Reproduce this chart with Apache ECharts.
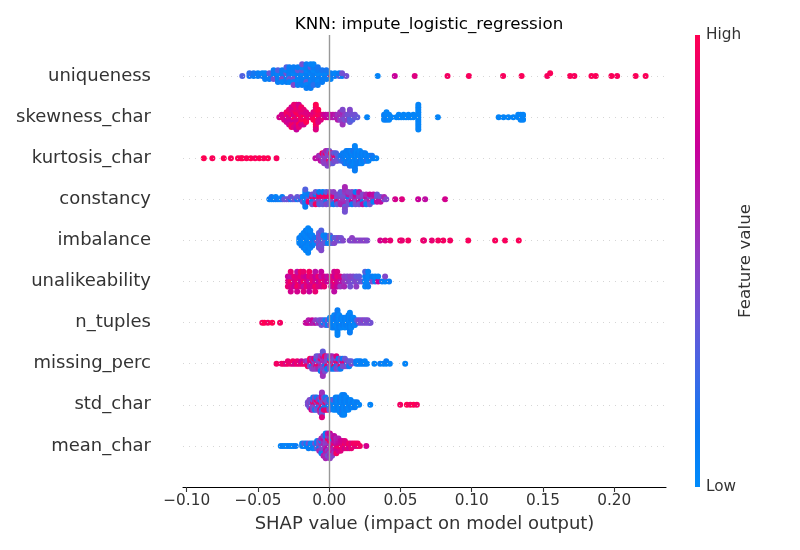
<!DOCTYPE html>
<html>
<head>
<meta charset="utf-8">
<title>KNN: impute_logistic_regression</title>
<script src="https://cdn.jsdelivr.net/npm/echarts@6/dist/echarts.min.js"></script>
<style>
    html, body { margin: 0; padding: 0; background: #ffffff; }
    #main { width: 800px; height: 550px; }
</style>
</head>
<body>
<div id="main"></div>
<script>
// feature names, top row first
var featureNames = ['uniqueness', 'skewness_char', 'kurtosis_char', 'constancy', 'imbalance',
    'unalikeability', 'n_tuples', 'missing_perc', 'std_char', 'mean_char'];
var xTicks = [-0.1, -0.05, 0, 0.05, 0.1, 0.15, 0.2];

// each point: [SHAP value, normalised feature value (0 = low, 1 = high)]
var uniqueness = [[-.061,.3],
    [-.056,.15],[-.056,.2],[-.053,.1],[-.053,.15],[-.050,.1],[-.050,.1],[-.047,.15],[-.047,.05],
    [-.045,.1],[-.045,.05],[-.045,.1],[-.042,.1],[-.042,.35],[-.042,.1],
    [-.039,.05],[-.039,.1],[-.039,.4],[-.039,.1],[-.036,.1],[-.036,.05],[-.036,.1],[-.036,.3],[-.036,.1],
    [-.033,.05],[-.033,.1],[-.033,.45],[-.033,.1],[-.033,.05],
    [-.030,.1],[-.030,.4],[-.030,.1],[-.030,.05],[-.030,.1],[-.030,.3],
    [-.028,.05],[-.028,.1],[-.028,.35],[-.028,.1],[-.028,.05],[-.028,.1],
    [-.025,.1],[-.025,.05],[-.025,.4],[-.025,.1],[-.025,.05],[-.025,.1],[-.025,.45],
    [-.022,.05],[-.022,.1],[-.022,.1],[-.022,.35],[-.022,.05],[-.022,.1],[-.022,.1],
    [-.019,.1],[-.019,.05],[-.019,.1],[-.019,.3],[-.019,.1],[-.019,.05],[-.019,.1],[-.019,.4],
    [-.016,.05],[-.016,.1],[-.016,.1],[-.016,.05],[-.016,.35],[-.016,.1],[-.016,.05],[-.016,.1],[-.016,.1],
    [-.013,.1],[-.013,.05],[-.013,.1],[-.013,.1],[-.013,.05],[-.013,.3],[-.013,.1],[-.013,.05],[-.013,.1],
    [-.011,.05],[-.011,.1],[-.011,.1],[-.011,.05],[-.011,.1],[-.011,.1],[-.011,.2],[-.011,.05],
    [-.008,.1],[-.008,.05],[-.008,.1],[-.008,.1],[-.008,.05],[-.008,.15],[-.008,.1],
    [-.005,.1],[-.005,.05],[-.005,.1],[-.005,.15],[-.005,.1],
    [-.002,.1],[-.002,.05],[-.002,.1],[-.002,.15],
    [.001,.95],[.001,.1],[.001,.05],[.004,.1],[.004,.05],[.007,.3],[.007,.1],[.009,.1],[.009,.4],[.012,.4],
    [.034,.05],[.046,.75],[.060,.85],[.083,.95],[.098,.97],[.122,.97],[.135,.98],[.153,.96],[.155,.98],
    [.169,.98],[.172,.97],[.184,.98],[.187,.98],[.198,.98],[.202,.97],[.215,.98],[.222,.98]];

var skewnessChar = [[-.035,.8],
    [-.0333,.85],[-.0333,.8],
    [-.0316,.9],[-.0316,.8],[-.0316,.85],
    [-.0299,.85],[-.0299,.9],[-.0299,.75],[-.0299,.95],[-.0299,.8],
    [-.0282,.9],[-.0282,.8],[-.0282,.85],[-.0282,.95],[-.0282,.75],[-.0282,.9],[-.0282,.8],
    [-.0265,.85],[-.0265,.95],[-.0265,.8],[-.0265,.9],[-.0265,.75],[-.0265,.85],[-.0265,.9],[-.0265,.8],[-.0265,.95],
    [-.0247,.9],[-.0247,.8],[-.0247,1],[-.0247,.85],[-.0247,.75],[-.0247,.9],[-.0247,.95],[-.0247,.8],[-.0247,.85],[-.0247,.9],
    [-.023,.95],[-.023,.85],[-.023,.9],[-.023,1],[-.023,.8],[-.023,.9],[-.023,.85],[-.023,.95],[-.023,.8],[-.023,.9],[-.023,.75],
    [-.0213,.9],[-.0213,1],[-.0213,.85],[-.0213,.95],[-.0213,.8],[-.0213,.9],[-.0213,1],[-.0213,.85],[-.0213,.9],[-.0213,.8],
    [-.0196,1],[-.0196,.9],[-.0196,.95],[-.0196,.85],[-.0196,1],[-.0196,.9],[-.0196,.8],[-.0196,.95],
    [-.0179,.95],[-.0179,1],[-.0179,.9],[-.0179,.85],[-.0179,1],[-.0179,.9],[-.0179,.8],
    [-.0162,1],[-.0162,.9],[-.0162,.95],[-.0162,.85],[-.0162,1],
    [-.0145,.9],[-.0145,.85],[-.0128,.9],
    [-.0111,.95],[-.0111,.9],[-.0111,1],[-.0111,.85],
    [-.0094,1],[-.0094,.95],[-.0094,1],[-.0094,.9],[-.0094,1],[-.0094,.95],[-.0094,1],[-.0094,.9],[-.0094,.95],[-.0094,1],[-.0094,.85],
    [-.0077,.95],[-.0077,1],[-.0077,.9],[-.0077,.95],[-.0077,.85],[-.0077,1],
    [-.0059,.9],[-.0059,.95],[-.0059,.85],[-.0042,.9],[-.0042,.8],[-.0025,.8],[-.0025,.75],
    [-.0008,.75],[-.0008,.7],[.0009,.7],[.0009,.75],[.0026,.65],[.0026,.7],[.0043,.6],[.0043,.65],
    [.006,.6],[.006,.55],[.006,.65],[.0077,.55],[.0077,.6],[.0077,.5],[.0077,.55],
    [.0094,.5],[.0094,.55],[.0094,.45],[.0094,.6],[.0094,.5],[.0094,.45],[.0094,.55],
    [.0111,.45],[.0111,.5],[.0111,.4],[.0128,.45],[.0128,.4],[.0128,.5],
    [.0145,.35],[.0145,.4],[.0145,.3],[.0145,.4],[.0145,.35],[.0145,.45],
    [.0163,.35],[.0163,.4],[.0163,.3],[.018,.35],[.018,.4],[.0197,.35],
    [.0266,.05],[.0385,.05],[.0385,.1],[.0385,.05],[.0402,.05],[.0402,.05],[.0402,.1],[.0402,.05],
    [.042,.05],[.042,.05],[.042,.05],[.0437,.05],
    [.0471,.05],[.0488,.05],[.0488,.05],[.0505,.05],[.0522,.05],[.0522,.05],[.0539,.05],[.0556,.05],[.0556,.05],
    [.0573,.05],[.059,.05],[.059,.05],
    [.0625,.05],[.0625,.05],[.0625,.05],[.0625,.05],[.0625,.05],[.0625,.05],[.0625,.05],[.0625,.05],[.0625,.05],[.0625,.05],[.0625,.05],
    [.0762,.05],[.1189,.05],[.1223,.05],[.1257,.05],[.1292,.05],[.1326,.05],[.1326,.05],
    [.1343,.05],[.1343,.05],[.1343,.05],[.136,.05],[.136,.05],[.136,.05]];

var kurtosisChar = [[-.088,1],[-.082,.98],[-.074,1],[-.069,.98],[-.064,1],[-.062,.97],[-.061,1],[-.058,.98],
    [-.055,1],[-.052,.97],[-.049,1],[-.046,.98],[-.043,1],[-.037,.97],
    [-.0097,.7],[-.0072,.65],[-.0072,.6],[-.006,.6],[-.006,.55],[-.006,.7],
    [-.0048,.55],[-.0048,.5],[-.0048,.6],[-.0048,.95],
    [-.0036,.5],[-.0036,.55],[-.0036,.45],[-.0036,.6],[-.0036,.5],
    [-.0024,.5],[-.0024,.45],[-.0024,.55],[-.0024,.95],[-.0024,.5],[-.0024,.6],
    [-.0012,.45],[-.0012,.5],[-.0012,.55],[-.0012,.4],[-.0012,.5],[-.0012,.6],[-.0012,.45],
    [0,.5],[0,.45],[0,.95],[0,.5],[0,.55],[0,.4],
    [.0012,.45],[.0012,.5],[.0012,.4],[.0012,.95],[.0012,.5],
    [.0024,.4],[.0024,.45],[.0024,.95],[.0024,.5],[.0024,.35],
    [.0036,.4],[.0036,.95],[.0036,.45],[.0036,.35],[.0048,.35],[.0048,.9],[.0048,.4],[.0048,.3],
    [.006,.3],[.006,.35],[.006,.4],[.0072,.3],[.0072,.25],
    [.0084,.2],[.0084,.15],[.0084,.3],[.0096,.15],[.0096,.1],[.0096,.2],[.0096,.1],
    [.0108,.1],[.0108,.15],[.0108,.05],[.0108,.1],[.0108,.2],
    [.012,.1],[.012,.05],[.012,.15],[.012,.1],[.012,.05],[.012,.1],
    [.0132,.05],[.0132,.1],[.0132,.1],[.0132,.05],[.0132,.15],[.0132,.1],
    [.0144,.1],[.0144,.05],[.0144,.1],[.0144,.1],[.0144,.05],[.0144,.1],[.0144,.15],
    [.0156,.05],[.0156,.1],[.0156,.05],[.0156,.1],[.0156,.1],[.0156,.05],
    [.0168,.1],[.0168,.05],[.0168,.1],[.0168,.05],[.0168,.1],[.0168,.15],[.0168,.05],
    [.018,.05],[.018,.1],[.018,.05],[.018,.1],[.018,.05],[.018,.1],[.018,.05],[.018,.15],[.018,.1],[.018,.05],[.018,.1],
    [.0192,.1],[.0192,.05],[.0192,.1],[.0192,.05],[.0192,.1],[.0192,.05],
    [.0204,.05],[.0204,.1],[.0204,.05],[.0204,.1],[.0204,.1],
    [.0216,.1],[.0216,.05],[.0216,.15],[.0216,.05],[.0216,.1],[.0216,.05],
    [.0228,.05],[.0228,.1],[.0228,.05],[.0228,.1],[.0228,.05],
    [.024,.1],[.024,.05],[.024,.1],[.024,.05],[.0252,.05],[.0252,.1],[.0252,.05],[.0252,.1],
    [.0264,.1],[.0264,.05],[.0264,.2],[.0276,.05],[.0276,.1],[.0276,.05],
    [.0288,.1],[.0288,.05],[.03,.05],[.03,.15],[.0312,.1],[.033,.05]];

var constancy = [[-.042,.1],[-.0405,.05],[-.0405,.15],[-.039,.1],[-.0375,.1],[-.0375,.05],[-.036,.15],[-.0345,.05],
    [-.033,.2],[-.033,.1],[-.0315,.4],[-.030,.35],[-.0285,.4],[-.027,.15],[-.027,.45],[-.0255,.3],[-.024,.4],
    [-.0225,.1],[-.0225,.35],[-.021,.3],[-.0195,.1],[-.0195,.4],[-.0185,.1],[-.0185,.05],[-.0185,.35],
    [-.0168,.05],[-.0168,.1],[-.0168,.05],[-.0168,.1],[-.0168,.15],[-.0168,.05],[-.0168,.1],[-.0168,.3],
    [-.0145,.4],[-.0145,.35],[-.0145,.9],[-.0145,.1],
    [-.012,.4],[-.012,.95],[-.012,.1],[-.012,.45],[-.012,.35],
    [-.0095,.45],[-.0095,.9],[-.0095,.4],[-.0095,.1],[-.0095,.95],[-.0095,.35],
    [-.007,.4],[-.007,.95],[-.007,.45],[-.007,.9],[-.007,.3],[-.007,.1],
    [-.0045,.45],[-.0045,.9],[-.0045,.4],[-.0045,.95],[-.0045,.35],[-.0045,.1],
    [-.002,.4],[-.002,.95],[-.002,.1],[-.002,.9],[-.002,.45],[-.002,.3],
    [.0005,.45],[.0005,.9],[.0005,.4],[.0005,.95],[.0005,.35],[.0005,.5],
    [.003,.4],[.003,.95],[.003,.45],[.003,.85],[.003,.1],[.003,.5],
    [.0055,.5],[.0055,.4],[.0055,.9],[.0055,.45],[.0055,.35],
    [.008,.5],[.008,.45],[.008,.55],[.008,.4],[.008,.6],[.008,.35],
    [.011,.5],[.011,.45],[.011,.55],[.011,.4],[.011,.6],[.011,.5],[.011,.35],[.011,.55],[.011,.45],[.011,.6],[.011,.4],
    [.0135,.55],[.0135,.1],[.0135,.45],[.0135,.65],[.0135,.4],[.0135,.5],
    [.016,.6],[.016,.4],[.016,.75],[.016,.5],[.016,.1],[.016,.45],
    [.0185,.5],[.0185,.65],[.0185,.45],[.0185,.7],[.0185,.4],[.0185,.1],
    [.021,.6],[.021,.45],[.021,.7],[.021,.5],[.021,.4],[.021,.65],
    [.0235,.65],[.0235,.5],[.0235,.1],[.0235,.45],[.0235,.7],
    [.026,.5],[.026,.7],[.026,.45],[.026,.6],[.026,.1],
    [.0285,.7],[.0285,.45],[.0285,.6],[.0285,.75],[.0285,.4],
    [.031,.45],[.031,.6],[.031,.1],[.031,.7],[.0335,.6],[.0335,.4],[.0335,.7],[.0335,.35],
    [.036,.65],[.036,.4],[.036,.7],[.0385,.4],[.0385,.6],[.040,.45],
    [.0463,.8],[.051,.85],[.0624,.75],[.0673,.7],[.0813,.8]];

var imbalance = [[-.021,.05],[-.021,.1],[-.021,.05],
    [-.0195,.05],[-.0195,.1],[-.0195,.05],[-.0195,.05],[-.0195,.1],
    [-.0179,.1],[-.0179,.05],[-.0179,.05],[-.0179,.1],[-.0179,.05],[-.0179,.05],[-.0179,.1],
    [-.0164,.05],[-.0164,.1],[-.0164,.05],[-.0164,.05],[-.0164,.1],[-.0164,.05],[-.0164,.05],[-.0164,.1],[-.0164,.05],
    [-.0148,.05],[-.0148,.05],[-.0148,.1],[-.0148,.05],[-.0148,.05],[-.0148,.1],[-.0148,.05],[-.0148,.05],[-.0148,.1],[-.0148,.05],[-.0148,.05],
    [-.0133,.1],[-.0133,.05],[-.0133,.05],[-.0133,.1],[-.0133,.05],[-.0133,.1],[-.0133,.05],[-.0133,.05],
    [-.0118,.05],[-.0118,.1],[-.0118,.2],[-.0118,.05],[-.0118,.1],
    [-.0102,.1],[-.0102,.15],[-.0102,.05],[-.0087,.4],[-.0087,.1],
    [-.0072,.4],[-.0072,.45],[-.0072,.35],[-.0072,.4],[-.0072,.45],[-.0072,.35],[-.0072,.4],
    [-.0056,.4],[-.0056,.35],[-.0056,.45],[-.0056,.4],[-.0056,.35],[-.0056,.45],[-.0056,.4],[-.0056,.3],[-.0056,.45],
    [-.0041,.1],[-.0041,.35],[-.0041,.4],[-.0041,.05],[-.0026,.3],[-.0026,.05],[-.0026,.35],[-.0026,.1],
    [-.001,.35],[-.001,.1],[-.001,.05],[.0006,.1],[.0006,.4],[.0006,.05],[.0006,.35],
    [.0021,.4],[.0021,.1],[.0021,.35],[.0036,.05],[.0036,.35],[.0036,.45],
    [.0052,.45],[.0052,.35],[.0067,.4],[.0067,.45],[.0083,.35],[.0083,.4],[.0098,.45],
    [.0144,.45],[.016,.45],[.016,.5],[.0175,.45],[.019,.5],[.0206,.45],[.0221,.5],[.0237,.45],[.0252,.5],[.0267,.45],
    [.0358,.8],[.0393,.85],[.0428,.9],[.0498,.95],[.051,.9],[.0554,.95],[.0659,.95],[.0665,.9],[.072,.9],
    [.0764,.95],[.080,.95],[.0848,.95],[.0975,.97],[.1164,.97],[.1234,.97],[.133,.98]];

var unalikeability = [[-.029,.85],[-.029,.75],[-.029,.9],
    [-.027,.95],[-.027,.7],[-.027,.85],[-.027,.9],[-.027,.8],
    [-.0245,.8],[-.0245,.9],[-.0245,.75],
    [-.0225,.9],[-.0225,.85],[-.0225,.95],[-.0225,.7],[-.0225,.8],
    [-.020,.75],[-.020,.9],[-.020,.85],[-.020,.95],
    [-.018,.95],[-.018,.8],[-.018,.7],[-.018,.9],[-.018,.85],
    [-.016,.85],[-.016,.75],[-.016,.9],
    [-.014,.7],[-.014,.9],[-.014,.8],[-.014,.95],[-.014,.75],
    [-.012,.9],[-.012,.85],[-.012,.8],
    [-.0098,.8],[-.0098,.75],[-.0098,.95],[-.0098,.7],[-.0098,.9],
    [-.0077,.75],[-.0077,.9],[-.0077,.85],
    [-.0056,.9],[-.0056,.7],[-.0056,.8],[-.0056,.75],
    [-.0035,.85],[-.0035,.8],[-.0035,.9],[-.0014,.75],[-.0014,.7],
    [.0014,.8],[.0014,.9],[.0014,.7],
    [.0035,.9],[.0035,.75],[.0035,.85],[.0035,.8],[.0035,.7],
    [.0056,.8],[.0056,.9],[.0056,.75],[.0056,.85],
    [.0077,.7],[.0077,.85],[.0077,.55],[.0105,.55],[.0105,.5],[.0105,.6],[.0126,.5],[.0126,.45],
    [.0147,.45],[.0147,.5],[.0147,.4],[.0168,.4],[.0168,.45],[.019,.45],[.019,.35],[.019,.5],
    [.021,.4],[.021,.35],[.023,.35],
    [.0252,.05],[.0252,.1],[.0252,.05],[.0252,.3],[.0273,.05],[.0273,.05],[.0273,.1],[.0273,.05],
    [.0301,.4],[.0301,.1],[.0322,.1],[.0322,.05],[.0343,.75],[.0343,.05],[.0371,.1],[.0392,.05],[.0392,.45],[.042,.1]];

var nTuples = [[-.047,.95],[-.0455,1],[-.043,.95],[-.040,1],[-.0345,.95],
    [-.0165,.75],[-.0155,.7],[-.0145,.8],[-.0145,.65],[-.013,.7],[-.012,.65],[-.012,.75],[-.0105,.6],
    [-.0095,.7],[-.0095,.5],[-.008,.45],[-.007,.6],[-.007,.4],
    [-.0055,.35],[-.0055,.45],[-.0055,.4],[-.004,.1],[-.004,.3],[-.0025,.4],[-.0025,.05],[-.0025,.35],
    [-.001,.1],[-.001,.4],[-.001,.05],[.0005,.05],[.0005,.1],[.0005,.4],[.0005,.05],
    [.002,.05],[.002,.1],[.002,.05],[.002,.1],[.002,.05],
    [.0035,.1],[.0035,.05],[.0035,.1],[.0035,.05],[.0035,.1],[.0035,.05],
    [.0045,.05],[.0045,.1],[.0045,.05],[.0045,.15],
    [.0058,.05],[.0058,.1],[.0058,.05],[.0058,.1],[.0058,.05],[.0058,.1],[.0058,.05],[.0058,.15],[.0058,.05],[.0058,.1],[.0058,.05],
    [.007,.1],[.007,.05],[.007,.1],[.007,.05],[.007,.1],[.007,.05],
    [.0085,.05],[.0085,.1],[.0085,.05],[.0085,.1],[.0085,.05],
    [.0095,.1],[.0095,.05],[.0095,.1],[.0095,.05],
    [.011,.05],[.011,.1],[.011,.05],[.011,.1],[.011,.05],
    [.012,.1],[.012,.05],[.012,.1],[.012,.05],
    [.0135,.05],[.0135,.1],[.0135,.05],[.0135,.1],[.0135,.05],[.0135,.1],
    [.0145,.1],[.0145,.05],[.0145,.1],[.0145,.05],[.0145,.1],[.0145,.05],[.0145,.1],[.0145,.05],[.0145,.1],
    [.0155,.05],[.0155,.1],[.0155,.05],[.0155,.1],[.0155,.05],
    [.017,.1],[.017,.05],[.017,.1],[.017,.05],[.018,.05],[.018,.1],[.018,.05],[.0195,.1],[.0195,.3],
    [.021,.4],[.021,.45],[.0225,.45],[.0225,.4],[.024,.4],[.024,.5],[.0255,.45],[.0255,.4],
    [.027,.4],[.027,.45],[.0285,.45],[.029,.4]];

var missingPerc = [[-.037,.95],[-.0335,.9],[-.032,.95],[-.0305,.85],[-.029,.95],[-.029,.9],[-.027,.9],
    [-.0255,.85],[-.0255,.95],[-.024,.8],[-.0225,.95],[-.0225,.9],[-.021,.85],[-.0195,.9],[-.0195,.75],
    [-.018,.95],[-.0165,.85],[-.0165,.6],
    [-.015,.9],[-.015,.5],[-.015,.95],[-.0135,.6],[-.0135,.85],[-.0135,.4],[-.0135,.95],
    [-.012,.5],[-.012,.9],[-.012,.1],[-.012,.6],[-.012,.45],
    [-.0105,.95],[-.0105,.4],[-.0105,.55],[-.0105,.85],[-.0105,.5],
    [-.009,.45],[-.009,.6],[-.009,.9],[-.009,.1],[-.009,.5],[-.009,.4],
    [-.0075,.55],[-.0075,.45],[-.0075,.95],[-.0075,.5],[-.0075,.6],[-.0075,.35],
    [-.006,.5],[-.006,.4],[-.006,.6],[-.006,.9],[-.006,.45],[-.006,.55],[-.006,.1],
    [-.0045,.5],[-.0045,.6],[-.0045,.45],[-.0045,.55],[-.0045,.4],[-.0045,.7],[-.0045,.5],[-.0045,.45],[-.0045,.6],[-.0045,.35],[-.0045,.55],
    [-.003,.45],[-.003,.55],[-.003,.1],[-.003,.6],[-.003,.5],[-.003,.95],[-.003,.4],
    [-.0015,.5],[-.0015,.4],[-.0015,.9],[-.0015,.45],[-.0015,.1],[-.0015,.55],
    [.0005,.4],[.0005,.95],[.0005,.5],[.0005,.1],[.0005,.45],[.0005,.35],
    [.002,.5],[.002,.9],[.002,.4],[.002,.45],[.002,.1],[.002,.6],
    [.0035,.35],[.0035,.5],[.0035,.95],[.0035,.4],[.0035,.1],
    [.005,.45],[.005,.9],[.005,.1],[.005,.4],[.005,.5],[.005,.85],
    [.0065,.4],[.0065,.95],[.0065,.45],[.0065,.1],[.0065,.35],
    [.008,.5],[.008,.4],[.008,.9],[.008,.45],[.008,.1],
    [.0095,.35],[.0095,.85],[.0095,.4],[.0095,.1],[.011,.4],[.011,.9],[.011,.45],[.011,.35],
    [.0125,.1],[.0125,.45],[.0125,.4],[.014,.4],[.014,.35],[.014,.1],[.0155,.45],[.0155,.35],
    [.019,.05],[.019,.1],[.0205,.1],[.0205,.05],[.022,.05],[.022,.1],[.0235,.05],[.025,.1],[.025,.05],[.0265,.05],
    [.0317,.05],[.0357,.1],[.038,.05],[.040,.05],[.040,.1],[.0425,.05],[.0533,.05]];

var stdChar = [[-.015,.45],[-.015,.4],
    [-.0138,.4],[-.0138,.5],[-.0138,.35],[-.0138,.45],
    [-.0125,.45],[-.0125,.35],[-.0125,.5],[-.0125,.4],[-.0125,.8],
    [-.0113,.4],[-.0113,.9],[-.0113,.45],[-.0113,.35],[-.0113,.5],[-.0113,.15],
    [-.010,.5],[-.010,.95],[-.010,.4],[-.010,.6],[-.010,.1],[-.010,.45],
    [-.0088,.85],[-.0088,.4],[-.0088,.5],[-.0088,.95],[-.0088,.35],[-.0088,.15],
    [-.0075,.45],[-.0075,.9],[-.0075,.1],[-.0075,.6],[-.0075,.4],
    [-.0063,.5],[-.0063,.95],[-.0063,.4],[-.0063,.15],[-.0063,.85],[-.0063,.45],[-.0063,.6],
    [-.0051,.6],[-.0051,.45],[-.0051,.9],[-.0051,.5],[-.0051,.1],[-.0051,.95],[-.0051,.4],[-.0051,.7],[-.0051,.35],[-.0051,.55],[-.0051,.85],
    [-.0038,.95],[-.0038,.4],[-.0038,.1],[-.0038,.5],[-.0038,.9],[-.0038,.45],
    [-.0026,.5],[-.0026,.95],[-.0026,.1],[-.0026,.4],[-.0026,.85],[-.0026,.15],
    [-.0013,.9],[-.0013,.45],[-.0013,.1],[-.0013,.4],[-.0013,.95],
    [.0001,.1],[.0001,.4],[.0001,.05],[.0001,.15],[.0001,.35],
    [.0015,.05],[.0015,.1],[.0015,.3],[.0015,.05],
    [.003,.1],[.003,.05],[.003,.1],[.003,.4],[.003,.05],
    [.0045,.05],[.0045,.1],[.0045,.05],[.0045,.15],[.0045,.05],[.0045,.1],
    [.006,.1],[.006,.05],[.006,.1],[.006,.05],[.006,.1],[.006,.05],
    [.0075,.05],[.0075,.1],[.0075,.05],[.0075,.1],[.0075,.05],[.0075,.15],[.0075,.05],
    [.009,.1],[.009,.05],[.009,.1],[.009,.05],[.009,.1],[.009,.05],[.009,.15],[.009,.05],[.009,.1],
    [.0105,.05],[.0105,.1],[.0105,.05],[.0105,.1],[.0105,.05],[.0105,.1],[.0105,.05],[.0105,.1],[.0105,.05],
    [.012,.1],[.012,.05],[.012,.1],[.012,.05],[.012,.1],[.012,.05],
    [.0135,.05],[.0135,.1],[.0135,.05],[.0135,.1],[.0135,.05],
    [.015,.1],[.015,.05],[.015,.1],[.015,.05],[.0165,.05],[.0165,.1],[.0165,.05],
    [.018,.1],[.018,.05],[.018,.1],[.0195,.05],[.0195,.1],[.021,.05],
    [.0288,.05],[.0498,.95],[.0545,1],[.0569,.95],[.0592,1],[.0615,.95]];

var meanChar = [[-.034,.05],[-.0325,.1],[-.031,.05],[-.0295,.05],[-.028,.1],[-.0265,.05],[-.025,.05],[-.0235,.1],
    [-.019,.1],[-.019,.05],[-.0175,.05],[-.0175,.3],[-.016,.1],[-.016,.05],
    [-.0145,.05],[-.0145,.4],[-.0145,.1],[-.013,.1],[-.013,.05],
    [-.0115,.35],[-.0115,.05],[-.0115,.1],[-.010,.1],[-.010,.4],[-.010,.05],
    [-.0085,.45],[-.0085,.1],[-.0085,.35],[-.0085,.05],
    [-.007,.5],[-.007,.4],[-.007,.1],[-.007,.45],[-.007,.6],
    [-.0055,.45],[-.0055,.55],[-.0055,.4],[-.0055,.05],[-.0055,.5],[-.0055,.6],[-.0055,.1],
    [-.004,.5],[-.004,.6],[-.004,.45],[-.004,.55],[-.004,.4],[-.004,.7],[-.004,.05],[-.004,.5],[-.004,.65],
    [-.0025,.55],[-.0025,.45],[-.0025,.6],[-.0025,.5],[-.0025,.7],[-.0025,.4],[-.0025,.65],[-.0025,.1],[-.0025,.55],[-.0025,.05],[-.0025,.6],
    [-.001,.6],[-.001,.5],[-.001,.7],[-.001,.55],[-.001,.45],[-.001,.95],[-.001,.6],[-.001,.5],[-.001,.4],[-.001,.65],
    [.0005,.65],[.0005,.55],[.0005,.5],[.0005,.95],[.0005,.6],[.0005,.7],[.0005,.45],[.0005,.6],[.0005,.55],[.0005,.75],[.0005,.5],
    [.002,.7],[.002,.6],[.002,.9],[.002,.55],[.002,.65],[.002,.05],[.002,.75],[.002,.6],[.002,.45],
    [.0035,.75],[.0035,.95],[.0035,.6],[.0035,.7],[.0035,.65],[.0035,.85],[.0035,.55],[.0035,.7],
    [.005,.8],[.005,.7],[.005,.9],[.005,.65],[.005,.75],[.005,.6],[.005,.95],
    [.0065,.85],[.0065,.75],[.0065,.95],[.0065,.7],[.0065,.8],[.0065,.65],
    [.008,.9],[.008,.8],[.008,.95],[.008,.75],[.008,.85],
    [.0095,.95],[.0095,.85],[.0095,.9],[.0095,.8],[.011,.9],[.011,.95],[.011,.8],[.011,.85],
    [.0125,.95],[.0125,.85],[.0125,.9],[.014,.9],[.014,.95],[.014,.8],[.0155,.95],[.0155,.85],[.0155,.9],
    [.017,.9],[.017,.95],[.0185,.85],[.0185,.95],[.020,.9],[.020,.95],[.0215,.95],[.026,.8]];

var featureRows = [uniqueness, skewnessChar, kurtosisChar, constancy, imbalance,
    unalikeability, nTuples, missingPerc, stdChar, meanChar];

// shap red_blue colour map, low -> high
var colourStops = ['#008bfb', '#0a7af4', '#3f68e6', '#6c55d6', '#8f3ec4', '#b01fb0', '#c8009a', '#e4007a', '#ff0052'];

(function () {
    var ROW_HEIGHT = 0.4;
    var FONT = 'DejaVu Sans';

    // same stacking as shap's beeswarm: 100 bins, alternate up/down inside a bin
    function swarmOffsets(xs) {
        var nbins = 100;
        var lo = Math.min.apply(null, xs), hi = Math.max.apply(null, xs);
        var quant = xs.map(function (x) { return Math.round(nbins * (x - lo) / (hi - lo + 1e-8)); });
        var order = xs.map(function (x, i) { return i; });
        order.sort(function (a, b) { return quant[a] - quant[b] || a - b; });
        var ys = xs.map(function () { return 0; });
        var layer = 0, lastBin = -1;
        order.forEach(function (i) {
            if (quant[i] !== lastBin) layer = 0;
            ys[i] = Math.ceil(layer / 2) * ((layer % 2) * 2 - 1);
            layer++;
            lastBin = quant[i];
        });
        var maxY = Math.max.apply(null, ys);
        var scale = 0.9 * (ROW_HEIGHT / (maxY + 1));
        return ys.map(function (y) { return y * scale; });
    }

    function buildSeries() {
        var n = featureNames.length;
        var series = [];
        var guide = [];
        for (var r = 0; r < n; r++) {
            guide.push({ yAxis: r, lineStyle: { color: '#cccccc', width: 0.8, type: [1, 5] } });
        }
        guide.push({ xAxis: 0, lineStyle: { color: '#999999', width: 1.4, type: 'solid' } });
        series.push({
            type: 'scatter',
            data: [],
            z: 1,
            silent: true,
            markLine: { silent: true, symbol: 'none', label: { show: false }, data: guide }
        });
        featureRows.forEach(function (rows, idx) {
            var pos = n - 1 - idx;
            var offs = swarmOffsets(rows.map(function (p) { return p[0]; }));
            series.push({
                name: featureNames[idx],
                type: 'scatter',
                z: 3,
                symbolSize: 6,
                itemStyle: { opacity: 1 },
                data: rows.map(function (p, i) { return [p[0], pos + offs[i], p[1]]; })
            });
        });
        return series;
    }

    function loadChart() {
        var chartDom = document.getElementById('main');
        var myChart = echarts.init(chartDom, null, { renderer: 'canvas' });
        var series = buildSeries();
        var seriesIdx = [];
        for (var i = 1; i < series.length; i++) seriesIdx.push(i);

        var option = {
            animation: false,
            backgroundColor: '#ffffff',
            textStyle: { fontFamily: FONT },
            title: {
                text: 'KNN: impute_logistic_regression',
                left: 424,
                textAlign: 'center',
                top: 11,
                textStyle: { fontFamily: FONT, fontSize: 16.7, fontWeight: 'normal', color: '#000000' }
            },
            grid: { left: 183, right: 134, top: 35, bottom: 63 },
            xAxis: {
                type: 'value',
                min: -0.1026,
                max: 0.2363,
                name: 'SHAP value (impact on model output)',
                nameLocation: 'middle',
                nameGap: 28,
                nameTextStyle: { fontFamily: FONT, fontSize: 18, color: '#333333' },
                axisLine: { onZero: false, lineStyle: { color: '#000000', width: 1.1 } },
                axisTick: { customValues: xTicks, length: 5, lineStyle: { color: '#333333', width: 1.1 } },
                axisLabel: {
                    customValues: xTicks,
                    margin: 7,
                    fontFamily: FONT,
                    fontSize: 15.3,
                    color: '#333333',
                    formatter: function (v) {
                        var s = Math.abs(v).toFixed(2);
                        return v < -1e-9 ? '\u2212' + s : s;
                    }
                },
                splitLine: { show: false }
            },
            yAxis: {
                type: 'value',
                min: -1,
                max: featureNames.length,
                interval: 1,
                axisLine: { show: false },
                axisTick: { show: false },
                splitLine: { show: false },
                axisLabel: {
                    margin: 32,
                    fontFamily: FONT,
                    fontSize: 18,
                    color: '#333333',
                    formatter: function (v) {
                        var name = featureNames[featureNames.length - 1 - v];
                        return name || '';
                    }
                }
            },
            visualMap: {
                show: false,
                type: 'continuous',
                min: 0,
                max: 1,
                dimension: 2,
                seriesIndex: seriesIdx,
                inRange: { color: colourStops }
            },
            graphic: [
                {
                    type: 'rect',
                    shape: { x: 695, y: 35, width: 5, height: 452 },
                    style: {
                        fill: new echarts.graphic.LinearGradient(0, 1, 0, 0, colourStops.map(function (c, i) {
                            return { offset: i / (colourStops.length - 1), color: c };
                        }))
                    }
                },
                {
                    type: 'text', x: 706, y: 35,
                    style: { text: 'High', fontFamily: FONT, fontSize: 15.3, fill: '#333333', verticalAlign: 'middle' }
                },
                {
                    type: 'text', x: 706, y: 487,
                    style: { text: 'Low', fontFamily: FONT, fontSize: 15.3, fill: '#333333', verticalAlign: 'middle' }
                },
                {
                    type: 'text', x: 746, y: 261, rotation: Math.PI / 2,
                    style: { text: 'Feature value', fontFamily: FONT, fontSize: 16.7, fill: '#333333', align: 'center', verticalAlign: 'middle' }
                }
            ],
            series: series
        };

        option && myChart.setOption(option);
    }

    loadChart();
})();
</script>
</body>
</html>
